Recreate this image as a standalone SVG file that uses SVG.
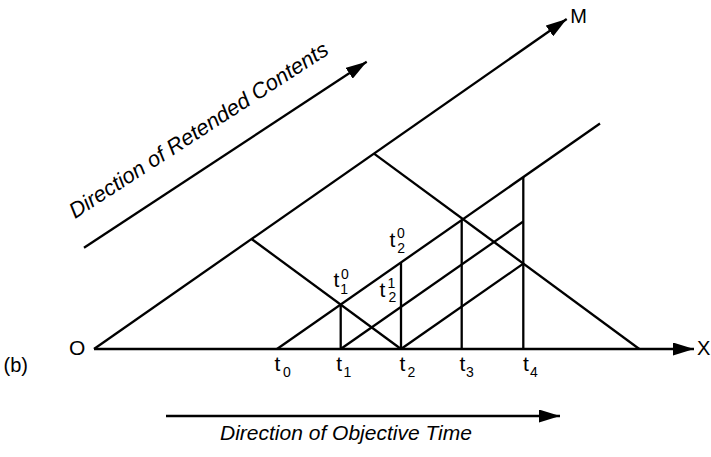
<svg xmlns="http://www.w3.org/2000/svg" width="711" height="457" viewBox="0 0 711 457">
<style>
.ln{stroke:#000;stroke-width:2.3;fill:none}
.tx{font-family:"Liberation Sans",Arial,Helvetica,sans-serif;fill:#000}
.big{font-size:21px}
.mid{font-size:20px}
.sm{font-size:14px}
.it{font-style:italic}
</style>
<defs>
<marker id="ah" viewBox="0 0 21 13" markerWidth="21" markerHeight="13" refX="21" refY="6.5" orient="auto" markerUnits="userSpaceOnUse">
<path d="M0,0 L21,6.5 L0,13 z" fill="#000"/>
</marker>
</defs>
<g id="connectors">
<line class="ln" x1="94" y1="349" x2="694" y2="349" marker-end="url(#ah)"/>
<line class="ln" x1="94" y1="349" x2="566.7" y2="19" marker-end="url(#ah)"/>
<line class="ln" x1="277" y1="349" x2="600" y2="123.5"/>
<line class="ln" x1="340.7" y1="349" x2="523.3" y2="221.5"/>
<line class="ln" x1="401" y1="349" x2="523.3" y2="263.6"/>
<line class="ln" x1="251.6" y1="239" x2="401" y2="349"/>
<line class="ln" x1="374" y1="153.6" x2="639.3" y2="349"/>
<line class="ln" x1="340.7" y1="349" x2="340.7" y2="304.5"/>
<line class="ln" x1="401" y1="349" x2="401" y2="262.4"/>
<line class="ln" x1="461.7" y1="349" x2="461.7" y2="220.1"/>
<line class="ln" x1="523.3" y1="349" x2="523.3" y2="177.1"/>
<line class="ln" x1="84" y1="247.7" x2="366.7" y2="61.7" marker-end="url(#ah)"/>
<line class="ln" x1="166" y1="416" x2="560" y2="416" marker-end="url(#ah)"/>
</g>
<g id="label-O"><text class="tx big" x="69" y="355">O</text></g>
<g id="label-X"><text class="tx mid" x="697" y="355">X</text></g>
<g id="label-M"><text class="tx mid" x="570.2" y="23.3">M</text></g>
<g id="label-b"><text class="tx mid" x="3.5" y="371.7">(b)</text></g>
<g id="label-t0"><text class="tx big" x="274.5" y="371">t<tspan class="sm" x="283" y="377">0</tspan></text></g>
<g id="label-t1"><text class="tx big" x="336.3" y="371">t<tspan class="sm" x="343.5" y="377">1</tspan></text></g>
<g id="label-t2"><text class="tx big" x="399.6" y="371">t<tspan class="sm" x="407.6" y="377">2</tspan></text></g>
<g id="label-t3"><text class="tx big" x="459.6" y="371">t<tspan class="sm" x="466.1" y="377">3</tspan></text></g>
<g id="label-t4"><text class="tx big" x="522.9" y="371">t<tspan class="sm" x="529.9" y="377">4</tspan></text></g>
<g id="label-t1-0"><text class="tx big" x="333.6" y="287">t<tspan class="sm" x="341.1" y="278.7">0</tspan><tspan class="sm" x="340.2" y="294.3">1</tspan></text></g>
<g id="label-t2-0"><text class="tx big" x="389.6" y="247">t<tspan class="sm" x="397.1" y="238">0</tspan><tspan class="sm" x="397.3" y="252.7">2</tspan></text></g>
<g id="label-t2-1"><text class="tx big" x="379.6" y="297">t<tspan class="sm" x="387.5" y="288">1</tspan><tspan class="sm" x="388.6" y="302">2</tspan></text></g>
<g id="label-retended"><text class="tx it" style="font-size:21.8px" transform="translate(75,219) rotate(-33)">Direction of Retended Contents</text></g>
<g id="label-objective"><text class="tx big it" x="220" y="439.5">Direction of Objective Time</text></g>
</svg>
